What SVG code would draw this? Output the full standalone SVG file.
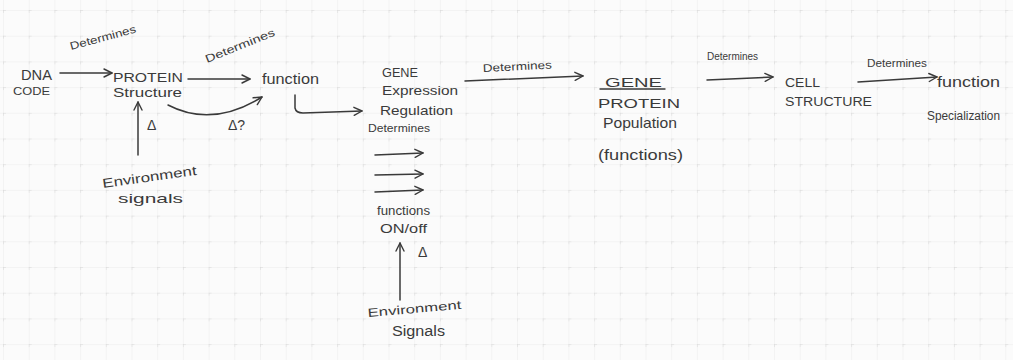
<svg xmlns="http://www.w3.org/2000/svg" width="1013" height="360" viewBox="0 0 1013 360">
<defs>
<pattern id="grid" x="3" y="10" width="25.7" height="25.7" patternUnits="userSpaceOnUse">
<path d="M0,0 V25.7 M0,0 H25.7" fill="none" stroke="#ececec" stroke-width="1"/>
<path d="M-3,0 H3 M0,-3 V3" fill="none" stroke="#d6d6d6" stroke-width="1"/>
</pattern>
<marker id="arr" markerWidth="12" markerHeight="12" refX="8" refY="4" orient="auto" markerUnits="userSpaceOnUse" overflow="visible">
<path d="M0,0 L8,4 L0,8" fill="none" stroke="#3a3a3a" stroke-width="1.4" stroke-linecap="round" stroke-linejoin="round"/>
</marker>
<style>
text{font-family:"Liberation Sans",Arial,sans-serif;fill:#3a3a3a}
.c{fill:none;stroke:#3a3a3a;stroke-width:1.5;stroke-linecap:round;marker-end:url(#arr)}
.u{fill:none;stroke:#3a3a3a;stroke-width:1.4;stroke-linecap:round}
</style>
</defs>
<rect width="1013" height="360" fill="#fbfbfb"/>
<rect width="1013" height="360" fill="url(#grid)"/>

<g id="connectors">
<path class="c" d="M60,73 L112,73"/>
<path class="c" d="M188,79 L250,79"/>
<path class="c" d="M168,105 Q212,128 262,97"/>
<path class="c" d="M138,155 L138,102"/>
<path class="c" d="M295,95 L295,108 Q296,113 303,113 L362,111"/>
<path class="c" d="M465,81 L583,76"/>
<path class="c" d="M375,155 L423,153"/>
<path class="c" d="M375,175 L423,174"/>
<path class="c" d="M375,192 L423,190"/>
<path class="c" d="M400,300 L400,243"/>
<path class="c" d="M707,80 L773,77"/>
<path class="c" d="M858,82 L937,77"/>
<path class="u" d="M600,89 L665,89"/>
</g>

<g id="label-determines-1"><text font-size="11" transform="translate(71,50) rotate(-15)" textLength="68" lengthAdjust="spacingAndGlyphs">Determines</text></g>
<g id="node-dna">
<text x="21" y="80" font-size="15" textLength="31" lengthAdjust="spacingAndGlyphs">DNA</text>
<text x="13" y="95" font-size="11" textLength="37" lengthAdjust="spacingAndGlyphs">CODE</text>
</g>
<g id="node-protein-structure">
<text x="113" y="82" font-size="13" textLength="70" lengthAdjust="spacingAndGlyphs">PROTEIN</text>
<text x="113" y="97" font-size="12" textLength="69" lengthAdjust="spacingAndGlyphs">Structure</text>
</g>
<g id="label-determines-2"><text font-size="11" transform="translate(207,63) rotate(-22)" textLength="74" lengthAdjust="spacingAndGlyphs">Determines</text></g>
<g id="node-function"><text x="262" y="84" font-size="14" textLength="57" lengthAdjust="spacingAndGlyphs">function</text></g>
<g id="label-delta-q"><text x="228" y="130" font-size="14">Δ?</text></g>
<g id="label-delta-1"><text x="147" y="130" font-size="14">Δ</text></g>
<g id="node-env-1">
<text font-size="13" transform="translate(103,188) rotate(-8)" textLength="95" lengthAdjust="spacingAndGlyphs">Environment</text>
<text x="118" y="203" font-size="13" textLength="65" lengthAdjust="spacingAndGlyphs">signals</text>
</g>
<g id="node-gene-expression">
<text x="382" y="77" font-size="13" textLength="36" lengthAdjust="spacingAndGlyphs">GENE</text>
<text x="382" y="95" font-size="13" textLength="76" lengthAdjust="spacingAndGlyphs">Expression</text>
<text x="380" y="115" font-size="13" textLength="73" lengthAdjust="spacingAndGlyphs">Regulation</text>
</g>
<g id="label-determines-3"><text x="368" y="132" font-size="11" textLength="62" lengthAdjust="spacingAndGlyphs">Determines</text></g>
<g id="node-functions-onoff">
<text x="377" y="215" font-size="12" textLength="53" lengthAdjust="spacingAndGlyphs">functions</text>
<text x="380" y="233" font-size="13" textLength="47" lengthAdjust="spacingAndGlyphs">ON/off</text>
</g>
<g id="label-delta-2"><text x="418" y="257" font-size="14">Δ</text></g>
<g id="node-env-2">
<text font-size="12" transform="translate(368,317) rotate(-5)" textLength="94" lengthAdjust="spacingAndGlyphs">Environment</text>
<text x="392" y="336" font-size="14" textLength="53" lengthAdjust="spacingAndGlyphs">Signals</text>
</g>
<g id="label-determines-4"><text font-size="11" transform="translate(483,72) rotate(-3)" textLength="69" lengthAdjust="spacingAndGlyphs">Determines</text></g>
<g id="node-gene-protein">
<text x="605" y="87" font-size="13" textLength="57" lengthAdjust="spacingAndGlyphs">GENE</text>
<text x="598" y="108" font-size="13" textLength="82" lengthAdjust="spacingAndGlyphs">PROTEIN</text>
<text x="603" y="128" font-size="15" textLength="74" lengthAdjust="spacingAndGlyphs">Population</text>
<text x="598" y="160" font-size="15" textLength="85" lengthAdjust="spacingAndGlyphs">(functions)</text>
</g>
<g id="label-determines-5"><text x="707" y="60" font-size="10" textLength="51" lengthAdjust="spacingAndGlyphs">Determines</text></g>
<g id="node-cell-structure">
<text x="785" y="87" font-size="13" textLength="35" lengthAdjust="spacingAndGlyphs">CELL</text>
<text x="785" y="106" font-size="12" textLength="87" lengthAdjust="spacingAndGlyphs">STRUCTURE</text>
</g>
<g id="label-determines-6"><text x="867" y="67" font-size="10" textLength="60" lengthAdjust="spacingAndGlyphs">Determines</text></g>
<g id="node-function-specialization">
<text x="937" y="87" font-size="14" textLength="63" lengthAdjust="spacingAndGlyphs">function</text>
<text x="927" y="120" font-size="12" textLength="73" lengthAdjust="spacingAndGlyphs">Specialization</text>
</g>
</svg>
